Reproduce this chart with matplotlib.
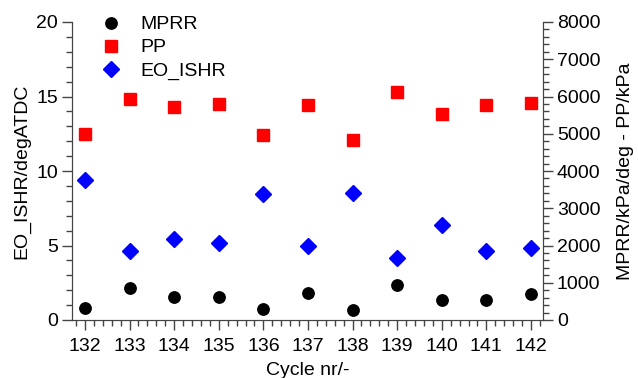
import matplotlib.pyplot as plt
from matplotlib.ticker import MultipleLocator

plt.rcParams['font.family'] = ['Liberation Sans', 'DejaVu Sans']
plt.rcParams['font.size'] = 14

# dados
cycles = [132, 133, 134, 135, 136, 137, 138, 139, 140, 141, 142]
mprr = [330, 867, 617, 617, 287, 733, 268, 940, 528, 537, 706]          # kPa/deg
pp = [4985, 5933, 5709, 5799, 4966, 5780, 4832, 6129, 5539, 5772, 5817]  # kPa
eo_ishr = [9.40, 4.61, 5.42, 5.19, 8.45, 4.97, 8.54, 4.14, 6.38, 4.63, 4.85]  # degATDC

axis_col = '#444444'

fig = plt.figure(figsize=(6.38, 3.78), dpi=100)
ax = fig.add_axes([72 / 638, 1 - 320 / 378, (543 - 72) / 638, (320 - 22) / 378])
ax2 = ax.twinx()

l3, = ax.plot(cycles, eo_ishr, 'D', color='#0000ff', markersize=7.8, linestyle='none', label='EO_ISHR')
l1, = ax2.plot(cycles, mprr, 'o', color='black', markersize=8.2, linestyle='none', label='MPRR')
l2, = ax2.plot(cycles, pp, 's', color='#ff0000', markersize=8.8, linestyle='none', label='PP')

ax.set_xlim(131.71, 142.27)
ax.set_ylim(0, 20)
ax2.set_ylim(0, 8000)

ax.set_xticks(cycles)
ax.xaxis.set_minor_locator(MultipleLocator(0.2))
ax.yaxis.set_major_locator(MultipleLocator(5))
ax.yaxis.set_minor_locator(MultipleLocator(1))
ax2.yaxis.set_major_locator(MultipleLocator(1000))
ax2.yaxis.set_minor_locator(MultipleLocator(200))

for a in (ax, ax2):
    for s in a.spines.values():
        s.set_color(axis_col)
    a.spines['top'].set_visible(False)
    a.tick_params(which='major', length=7, width=1, color=axis_col, pad=3)
    a.tick_params(which='minor', length=4, width=1, color=axis_col)
ax.tick_params(axis='x', which='major', pad=6)

ax.set_xlabel('Cycle nr/-', labelpad=5)
ax.set_ylabel('EO_ISHR/degATDC', labelpad=4)
ax2.set_ylabel('MPRR/kPa/deg - PP/kPa', labelpad=12)

fig.legend(handles=[l1, l2, l3], loc='upper left', bbox_to_anchor=(90 / 638, 1 - 6 / 378),
           frameon=False, borderpad=0, labelspacing=0.28, handletextpad=0.9,
           handlelength=1.2, fontsize=14)

fig.savefig('out.png', dpi=100)
